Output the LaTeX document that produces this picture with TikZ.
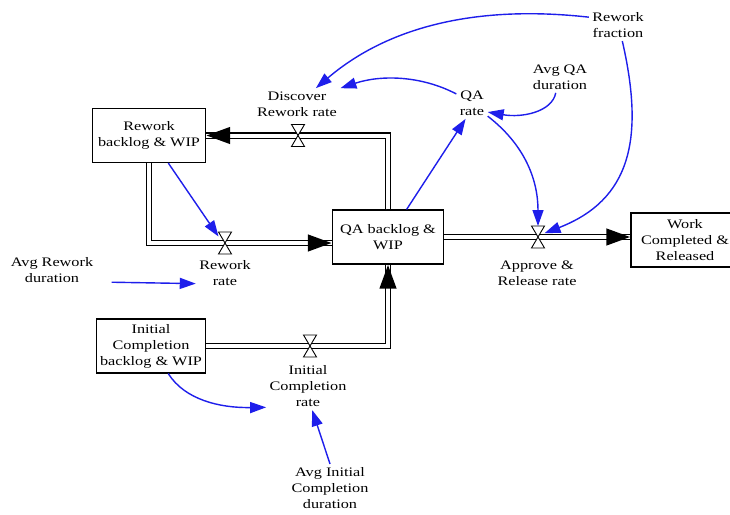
\documentclass[tikz,border=0pt]{standalone}
\usepackage{fontspec}
\newfontfamily\dfont[FakeStretch=1.25]{Liberation Serif}
\usetikzlibrary{arrows.meta,calc}
\definecolor{infoblue}{RGB}{30,30,235}
\begin{document}
\begin{tikzpicture}[x=1pt,y=-1pt,
  every node/.style={font=\dfont\fontsize{13}{16}\selectfont, align=center, inner sep=3.3pt},
  stock/.style={draw, line width=1.1pt, minimum width=#1, minimum height=54pt, inner sep=1pt},
  valvebox/.style={minimum width=13pt, minimum height=22pt, inner sep=0pt, outer sep=0pt},
  hg/.style={draw=black, fill=white, line width=0.9pt, line join=miter},
  pipe/.style={draw=black, line width=1.1pt, double=white, double distance=4pt},
  pipehead/.style={draw=white, line width=4pt, -{Triangle[length=24pt,width=16pt,color=black,fill=black]}},
  info/.style={draw=infoblue, line width=1.4pt, -{Triangle[length=16pt,width=11pt]}}
]
\fill[white] (0,0) rectangle (730,514);
\useasboundingbox (0,0) rectangle (730,514);

% stocks
\node[stock=113pt] (rwb) at (149,135.5) {Rework\\backlog \& WIP};
\node[stock=111pt] (qa) at (388,237) {QA backlog \&\\WIP};
\node[stock=108pt] (wc) at (685,240) {Work\\Completed \&\\Released};
\node[stock=109pt] (icb) at (151,346) {Initial\\Completion\\backlog \& WIP};

% valves
\node[valvebox] (vrw) at (225,243) {};
\node[valvebox] (vdr) at (298,135.5) {};
\node[valvebox] (vap) at (538,237) {};
\node[valvebox] (vic) at (310,346) {};

% labels and auxiliaries
\node (lrw) at (225,273) {Rework\\rate};
\node (ldr) at (297,104) {Discover\\Rework rate};
\node (lap) at (537,273) {Approve \&\\Release rate};
\node (lic) at (308,386) {Initial\\Completion\\rate};
\node (qar) at (472,103) {QA\\rate};
\node (aqd) at (560,77) {Avg QA\\duration};
\node (rf) at (618,25) {Rework\\fraction};
\node (ard) at (52,270) {Avg Rework\\duration};
\node (aicd) at (330,488) {Avg Initial\\Completion\\duration};

% pipes
\draw[pipe] (rwb.south) |- ($(qa.west)+(0,6)$);
\draw[pipe] (qa.north) |- (rwb.east);
\draw[pipe] (qa.east) -- (qa.east -| wc.west);
\draw[pipe] (icb.east) -| (qa.south);
\draw[pipehead] (rwb.south) |- ($(qa.west)+(0,6)$);
\draw[pipehead] (qa.north) |- (rwb.east);
\draw[pipehead] (qa.east) -- (qa.east -| wc.west);
\draw[pipehead] (icb.east) -| (qa.south);

\foreach \v in {vrw,vdr,vap,vic}
  \draw[hg] (\v.north west) -- (\v.north east) -- (\v.south west) -- (\v.south east) -- cycle;

% information links
\draw[info] (rf.165) .. controls (480,5) and (390,25) .. (ldr.40);
\draw[info] (qar.150) .. controls (420,75) and (380,75) .. (ldr.20);
\draw[info] (aqd.-105) .. controls (552,112) and (522,118) .. (qar.-30);
\draw[info] (qar.-40) .. controls (525,145) and (538,180) .. (vap.north);
\draw[info] (rf.-75) .. controls (645,140) and (630,200) .. (vap.30);
\draw[info] (qa.56) -- (qar.-112);
\draw[info] (rwb.-55) -- (vrw.135);
\draw[info, shorten <=15pt] (ard.-15) -- (lrw.-160);
\draw[info] (icb.-58) .. controls (185,400) and (220,408) .. (lic.-153);
\draw[info] (aicd.north) -- (lic.-80);
\end{tikzpicture}
\end{document}
